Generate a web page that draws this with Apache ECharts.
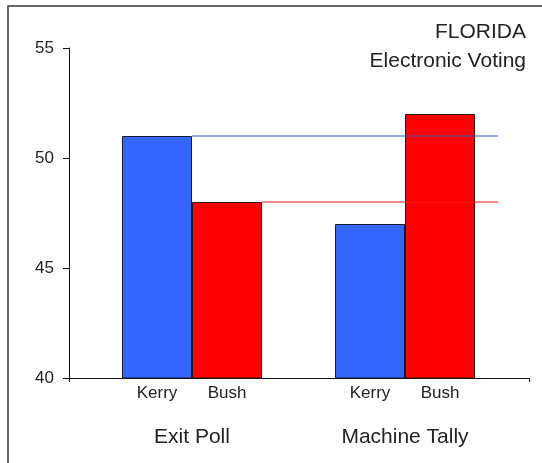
<!DOCTYPE html>
<html>
<head>
<meta charset="utf-8">
<script src="https://cdn.jsdelivr.net/npm/echarts@6/dist/echarts.min.js"></script>
<style>
html,body{margin:0;padding:0;background:#fff;}
#c{width:542px;height:463px;}
</style>
</head>
<body>
<div id="c"></div>
<script>
// ---- data ----
const categories = ['Exit Poll', 'Machine Tally'];
const seriesNames = ['Kerry', 'Bush'];
const kerry = [51, 47];
const bush = [48, 52];
const yMin = 40, yMax = 55, yStep = 5;
const titleLines = ['FLORIDA', 'Electronic Voting'];

// ---- layout ----
const W = 542;
const PLOT_TOP = 48, PLOT_BOTTOM = 85;
const AXIS_LEFT = 69, AXIS_RIGHT = 13;
const BAR_LEFT = 85.5, BAR_RIGHT = 30.5;
const BAR_W = 70;
const BAND_W = (W - BAR_LEFT - BAR_RIGHT) / categories.length;
const REF_END = 1.937; // reference lines end (in category-band units)
const FONT = 'Liberation Sans, Arial, sans-serif';

const chart = echarts.init(document.getElementById('c'), null, {renderer: 'canvas'});

const option = {
  animation: false,
  backgroundColor: '#fff',
  graphic: [
    {
      type: 'rect', silent: true, z: 100,
      shape: {x: 8, y: 6, width: 700, height: 700},
      style: {fill: null, stroke: '#333', lineWidth: 1.5}
    },
    {
      type: 'text', silent: true, z: 100, x: W - 16, y: 22,
      style: {text: titleLines[0], align: 'right', verticalAlign: 'top',
        font: '21px ' + FONT, fill: '#222'}
    },
    {
      type: 'text', silent: true, z: 100, x: W - 16, y: 51,
      style: {text: titleLines[1], align: 'right', verticalAlign: 'top',
        font: '21px ' + FONT, fill: '#222'}
    }
  ],
  grid: [
    {left: AXIS_LEFT, right: AXIS_RIGHT, top: PLOT_TOP, bottom: PLOT_BOTTOM},
    {left: BAR_LEFT, right: BAR_RIGHT, top: PLOT_TOP, bottom: PLOT_BOTTOM}
  ],
  xAxis: [
    {
      gridIndex: 0, type: 'value', min: 0, max: 1, interval: 1,
      axisLine: {show: true, onZero: false, lineStyle: {color: '#111', width: 1}},
      axisTick: {show: true, length: 4, lineStyle: {color: '#111'}},
      axisLabel: {show: false}, splitLine: {show: false}
    },
    {
      gridIndex: 1, type: 'category', data: categories,
      axisLine: {show: false}, axisTick: {show: false},
      axisLabel: {show: true, margin: 49, fontFamily: FONT, fontSize: 21, color: '#222'}
    },
    {
      gridIndex: 1, type: 'value', min: 0, max: categories.length, show: false
    }
  ],
  yAxis: [
    {
      gridIndex: 0, type: 'value', min: yMin, max: yMax, interval: yStep,
      axisLine: {show: true, lineStyle: {color: '#111', width: 1}},
      axisTick: {show: true, length: 6, inside: false, lineStyle: {color: '#111'}},
      axisLabel: {margin: 15, fontFamily: FONT, fontSize: 17, color: '#222'},
      splitLine: {show: false}
    },
    {
      gridIndex: 1, type: 'value', min: yMin, max: yMax, interval: yStep, show: false
    }
  ],
  series: [
    {
      name: seriesNames[0], type: 'bar', xAxisIndex: 1, yAxisIndex: 1,
      data: kerry, barWidth: BAR_W, barGap: '0%',
      itemStyle: {color: '#3366FF', borderColor: '#1a1a33', borderWidth: 1},
      label: {show: true, position: 'bottom', distance: 6, formatter: seriesNames[0],
        fontFamily: FONT, fontSize: 17, color: '#222'}
    },
    {
      name: seriesNames[1], type: 'bar', xAxisIndex: 1, yAxisIndex: 1,
      data: bush, barWidth: BAR_W, barGap: '0%',
      itemStyle: {color: '#FF0000', borderColor: '#331111', borderWidth: 1},
      label: {show: true, position: 'bottom', distance: 6, formatter: seriesNames[1],
        fontFamily: FONT, fontSize: 17, color: '#222'}
    },
    {
      type: 'line', xAxisIndex: 2, yAxisIndex: 1, z: 5, symbol: 'none',
      lineStyle: {color: '#3059c0', width: 1},
      data: [[0.5, kerry[0]], [REF_END, kerry[0]]]
    },
    {
      type: 'line', xAxisIndex: 2, yAxisIndex: 1, z: 5, symbol: 'none',
      lineStyle: {color: '#ff1010', width: 1},
      data: [[0.5 + BAR_W / BAND_W, bush[0]], [REF_END, bush[0]]]
    }
  ]
};
chart.setOption(option);
</script>
</body>
</html>
